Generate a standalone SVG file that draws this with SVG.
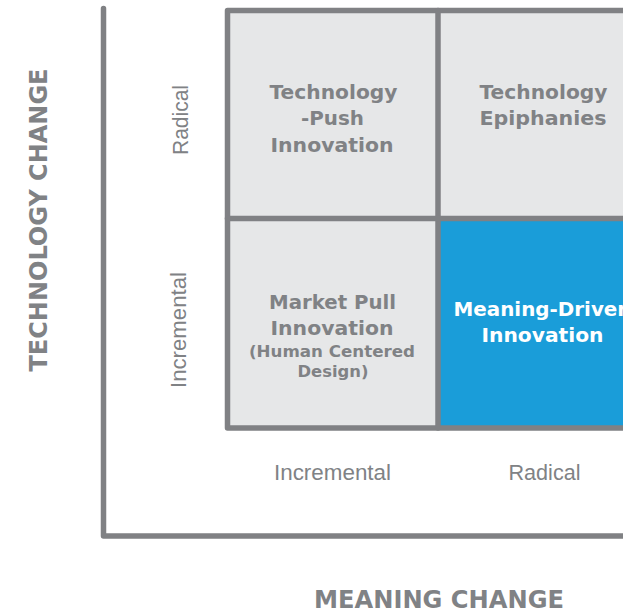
<svg xmlns="http://www.w3.org/2000/svg" width="623" height="614" viewBox="0 0 623 614">
<style>
.ln{fill:none;stroke:#808184;stroke-width:5.5;stroke-linecap:round;stroke-linejoin:round}
.cell{fill:#e6e7e8}
.blue{fill:#1a9dd9}
.t{font-family:"DejaVu Sans","Liberation Sans",Arial,sans-serif;font-weight:700;font-size:20px;fill:#808285;text-anchor:middle}
.w{fill:#ffffff}
.s{font-size:16.5px}
.lab{font-family:"Liberation Sans",Arial,sans-serif;font-size:22px;fill:#808285;text-anchor:middle}
.ax{font-family:"DejaVu Sans","Liberation Sans",Arial,sans-serif;font-weight:700;font-size:24px;fill:#808285;text-anchor:middle}
</style>
<rect width="623" height="614" fill="#ffffff"/>
<g id="axes">
<path class="ln" d="M103.5 8.5 V536 H640"/>
<text class="ax" transform="translate(46.5,220) rotate(-90)" textLength="303" lengthAdjust="spacingAndGlyphs">TECHNOLOGY CHANGE</text>
<text class="ax" x="439" y="608" textLength="250" lengthAdjust="spacingAndGlyphs">MEANING CHANGE</text>
<text class="lab" transform="translate(188,120) rotate(-90)" textLength="70" lengthAdjust="spacingAndGlyphs">Radical</text>
<text class="lab" transform="translate(186,330) rotate(-90)" textLength="116" lengthAdjust="spacingAndGlyphs">Incremental</text>
<text class="lab" x="332.5" y="480" textLength="117" lengthAdjust="spacingAndGlyphs">Incremental</text>
<text class="lab" x="544.5" y="480" textLength="72" lengthAdjust="spacingAndGlyphs">Radical</text>
</g>
<g id="cell-tech-push">
<rect class="cell" x="227.5" y="10.5" width="210.5" height="208"/>
<text class="t" x="333.5" y="98.5" textLength="128" lengthAdjust="spacingAndGlyphs">Technology</text>
<text class="t" x="332.5" y="125" textLength="63" lengthAdjust="spacingAndGlyphs">-Push</text>
<text class="t" x="332" y="151.5" textLength="123" lengthAdjust="spacingAndGlyphs">Innovation</text>
</g>
<g id="cell-tech-epiphanies">
<rect class="cell" x="438" y="10.5" width="200" height="208"/>
<text class="t" x="543.5" y="98.5" textLength="128" lengthAdjust="spacingAndGlyphs">Technology</text>
<text class="t" x="543" y="125" textLength="127" lengthAdjust="spacingAndGlyphs">Epiphanies</text>
</g>
<g id="cell-market-pull">
<rect class="cell" x="227.5" y="218.5" width="210.5" height="209.5"/>
<text class="t" x="332.5" y="308.5" textLength="127" lengthAdjust="spacingAndGlyphs">Market Pull</text>
<text class="t" x="332" y="335" textLength="123" lengthAdjust="spacingAndGlyphs">Innovation</text>
<text class="t s" x="332" y="356.5" textLength="166" lengthAdjust="spacingAndGlyphs">(Human Centered</text>
<text class="t s" x="333" y="376.5" textLength="71" lengthAdjust="spacingAndGlyphs">Design)</text>
</g>
<g id="cell-meaning-driven">
<rect class="blue" x="438" y="218.5" width="200" height="209.5"/>
<text class="t w" x="542.5" y="315.5" textLength="178" lengthAdjust="spacingAndGlyphs">Meaning-Driven</text>
<text class="t w" x="542.5" y="341.5" textLength="122" lengthAdjust="spacingAndGlyphs">Innovation</text>
</g>
<g id="grid-lines">
<path class="ln" d="M640 10.5 H227.5 V428 H640"/>
<path class="ln" d="M438 10.5 V428"/>
<path class="ln" d="M227.5 218.5 H640"/>
</g>
</svg>
